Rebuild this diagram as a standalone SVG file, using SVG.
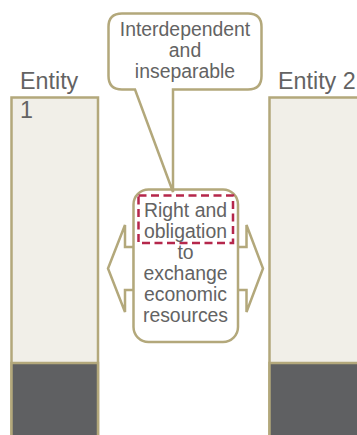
<svg xmlns="http://www.w3.org/2000/svg" width="357" height="435" viewBox="0 0 357 435">
  <style>
    .frame { stroke: #B3A87B; stroke-width: 2.5; stroke-linejoin: miter; }
    .light { fill: #F1EFE8; }
    .dark { fill: #5F6062; }
    .txt { font-family: "Liberation Sans", Arial, sans-serif; fill: #636363; }
    .lbl { font-size: 23.3px; }
    .body { font-size: 19.4px; text-anchor: middle; }
  </style>
  <rect width="357" height="435" fill="#FFFFFF"/>

  <!-- Entity 1 column -->
  <g id="entity1">
    <rect class="frame light" x="11.5" y="97.5" width="86.5" height="345"/>
    <rect class="frame dark" x="11.5" y="363" width="86.5" height="80"/>
    <text class="txt lbl" x="20" y="89">Entity</text>
    <text class="txt lbl" x="20" y="118">1</text>
  </g>

  <!-- Entity 2 column -->
  <g id="entity2">
    <rect class="frame light" x="269.5" y="97.5" width="95" height="345"/>
    <rect class="frame dark" x="269.5" y="363" width="95" height="80"/>
    <text class="txt lbl" x="278" y="89">Entity 2</text>
  </g>

  <!-- Connectors: two-way block arrows -->
  <g id="connectors">
    <polygon class="frame" fill="#FFFFFF" points="134,247 125,247 125,225 108,268.5 125,312 125,290 134,290"/>
    <polygon class="frame" fill="#FFFFFF" points="237,247 246.5,247 246.5,225 263,268.5 246.5,312 246.5,290 237,290"/>
  </g>

  <!-- Central exchange box -->
  <g id="exchange">
    <rect class="frame" fill="#FFFFFF" x="133.5" y="189.5" width="104.5" height="152.5" rx="15" ry="15"/>
    <rect x="138.5" y="195.5" width="94.5" height="47.5" fill="none" stroke="#B5274B" stroke-width="2.5" stroke-dasharray="8 4.5"/>
    <text class="txt body" x="185.5" y="217">Right and</text>
    <text class="txt body" x="185.5" y="238">obligation</text>
    <text class="txt body" x="185.5" y="259">to</text>
    <text class="txt body" x="185.5" y="280">exchange</text>
    <text class="txt body" x="185.5" y="301">economic</text>
    <text class="txt body" x="185.5" y="322">resources</text>
  </g>

  <!-- Callout pointing at the exchange box -->
  <g id="callout">
    <path class="frame" fill="#FFFFFF" d="M122,13.5 H248 Q261.5,13.5 261.5,27 V76 Q261.5,89.5 248,89.5 H173 V192 L135,89.5 H122 Q108.5,89.5 108.5,76 V27 Q108.5,13.5 122,13.5 Z"/>
    <text class="txt body" x="185" y="36">Interdependent</text>
    <text class="txt body" x="185" y="57">and</text>
    <text class="txt body" x="185" y="78">inseparable</text>
  </g>
</svg>
